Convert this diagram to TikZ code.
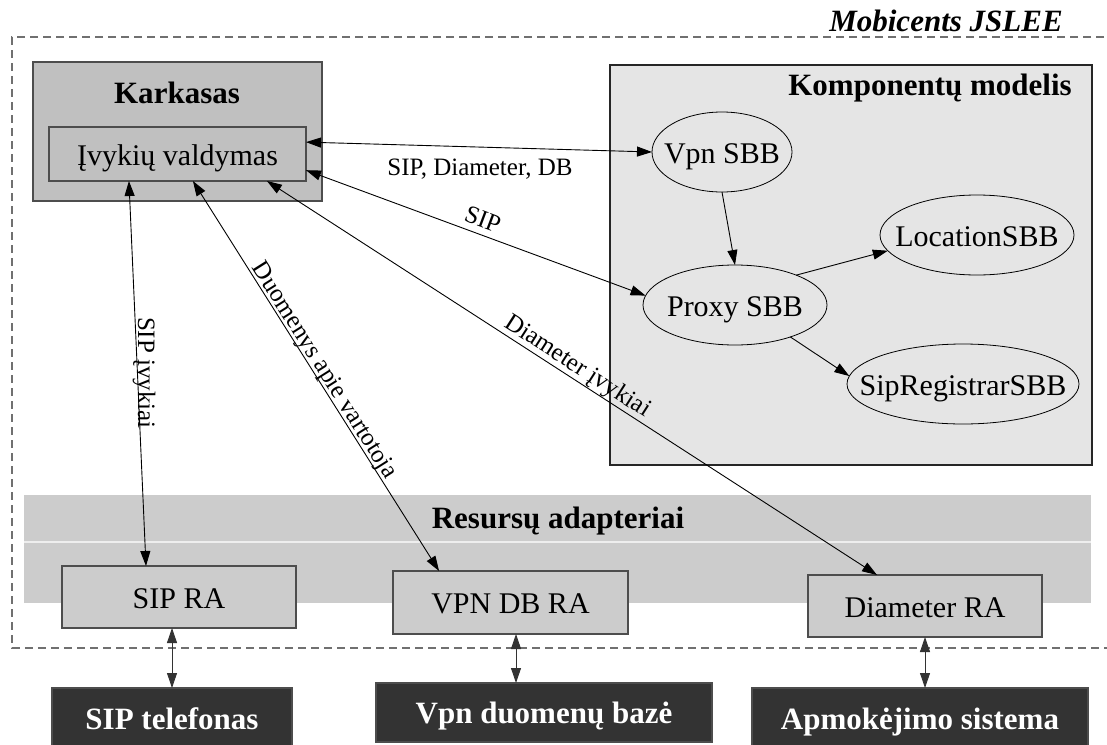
\documentclass[tikz,border=0pt]{standalone}
\usepackage{fontspec}
\setmainfont{Liberation Serif}
\usetikzlibrary{arrows.meta,calc,shapes.geometric}

\definecolor{frameGray}{HTML}{4D4D4D}
\definecolor{coreFill}{HTML}{C0C0C0}
\definecolor{compFill}{HTML}{E5E5E5}
\definecolor{raFill}{HTML}{CCCCCC}
\definecolor{extFill}{HTML}{333333}
\definecolor{dashGray}{HTML}{707070}
\definecolor{splitLine}{HTML}{EEEEEE}

\begin{document}
\begin{tikzpicture}[x=1pt,y=-1pt,
  every node/.style={inner sep=0pt, outer sep=0pt},
  bigfont/.style={font=\fontsize{30}{36}\selectfont},
  lblfont/.style={font=\fontsize{25}{30}\selectfont},
  txt/.style={bigfont, text height=22pt, text depth=0pt},
  box/.style={rectangle, draw=frameGray, line width=1.2pt, txt},
  corebox/.style={box, fill=coreFill},
  rabox/.style={box, fill=raFill},
  extbox/.style={rectangle, draw=frameGray, line width=1.2pt, fill=extFill,
                 text=white, font=\fontsize{31}{36}\selectfont\bfseries,
                 text height=22pt, text depth=0pt},
  sbb/.style={ellipse, draw=black, line width=0.8pt, minimum height=80pt},
  sbbtext/.style={txt},
  title/.style={font=\fontsize{31}{36}\selectfont\bfseries, anchor=base},
  edgelbl/.style={lblfont, anchor=base},
  conn/.style={line width=0.9pt, draw=black},
  onetip/.style={conn, -{Triangle[length=15pt,width=10pt]}},
  twotips/.style={conn, {Triangle[length=15pt,width=10pt]}-{Triangle[length=15pt,width=10pt]}},
  dashframe/.style={draw=dashGray, line width=1.2pt, dash pattern=on 8pt off 5pt}
]
\useasboundingbox (0,0) rectangle (1107,744);
\clip (0,0) rectangle (1107,744);

% container of the SLEE
\draw[dashframe] (1130,37) -- (12,37) -- (12,648) -- (1130,648);
\node[font=\fontsize{31}{36}\selectfont\bfseries\itshape, anchor=base] (slee) at (946,31) {Mobicents JSLEE};

% resource adaptor band
\node[rectangle, fill=raFill, minimum width=1067pt, minimum height=108pt] (band) at (557.5,549) {};
\draw[splitLine, line width=1.5pt] ($(band.west)+(0,-7)$) -- ($(band.east)+(0,-7)$);
\node[title] (bandtitle) at (558,528) {Resursų adapteriai};

% framework
\node[corebox, minimum width=289pt, minimum height=139pt] (core) at (177.5,131.5) {};
\node[title] (coretitle) at (177,103) {Karkasas};
\node[corebox, minimum width=257pt, minimum height=54pt] (ev) at (177.5,154) {Įvykių valdymas};

% component model
\node[rectangle, draw=black!85, line width=1.2pt, fill=compFill,
      minimum width=482pt, minimum height=400pt] (comp) at (851,265) {};
\node[title] (comptitle) at (930,95) {Komponentų modelis};

\node[sbb, minimum width=140pt, label={[sbbtext]center:Vpn SBB}] (vpn) at (722,152) {};
\node[sbb, minimum width=184pt, label={[sbbtext]center:Proxy SBB}] (proxy) at (735,305) {};
\node[sbb, minimum width=194pt, label={[sbbtext]center:LocationSBB}] (loc) at (977,235) {};
\node[sbb, minimum width=232pt, label={[sbbtext]center:SipRegistrarSBB}] (reg) at (963,384) {};

% resource adaptors
\node[rabox, minimum width=234pt, minimum height=62pt] (sipra) at (179,597) {SIP RA};
\node[rabox, minimum width=235pt, minimum height=63pt] (vpnra) at (510.5,602.5) {VPN DB RA};
\node[rabox, minimum width=234pt, minimum height=62pt] (diamra) at (925,606) {Diameter RA};

% external systems
\node[extbox, minimum width=240pt, minimum height=60pt] (phone) at (172,718) {SIP telefonas};
\node[extbox, minimum width=336pt, minimum height=59pt] (vpndb) at (544,712.5) {Vpn duomenų bazė};
\node[extbox, minimum width=336pt, minimum height=60pt] (bill) at (920,718) {Apmokėjimo sistema};

% attachment points on the event router
\coordinate (ev-s1) at ($(ev.south west)!0.311!(ev.south east)$);
\coordinate (ev-s2) at ($(ev.south west)!0.56!(ev.south east)$);
\coordinate (ev-s3) at ($(ev.south west)!0.848!(ev.south east)$);
\coordinate (ev-e1) at ($(ev.north east)!0.28!(ev.south east)$);
\coordinate (ev-e2) at ($(ev.north east)!0.80!(ev.south east)$);
\coordinate (sipra-n) at ($(sipra.north west)!0.359!(sipra.north east)$);
\coordinate (vpnra-n) at ($(vpnra.north west)!0.196!(vpnra.north east)$);
\coordinate (diamra-n) at ($(diamra.north west)!0.295!(diamra.north east)$);

% event flows
\draw[twotips] (ev-e1) -- (vpn.west);
\draw[twotips] (ev-e2) -- (proxy.174);
\draw[twotips] (ev-s1) -- (sipra-n);
\draw[twotips] (ev-s2) -- (vpnra-n);
\draw[twotips] (ev-s3) -- (diamra-n);

\node[edgelbl] (l-sdd) at (480,175) {SIP, Diameter, DB};
\node[edgelbl, rotate=-20.7] (l-sip) at (480,227) {SIP};
\node[edgelbl, rotate=-90] (l-sipev) at (138,373) {SIP įvykiai};
\node[edgelbl, rotate=-57.7] (l-duom) at (319,374) {Duomenys apie vartotoja};
\node[edgelbl, rotate=-32.7] (l-diam) at (574,372) {Diameter įvykiai};

% component calls
\draw[onetip] (vpn.south) -- (proxy.north);
\draw[onetip] (proxy.26) -- (loc.190);
\draw[onetip] (proxy.-30) -- (reg.176);

% adaptor to external system links
\draw[twotips, draw=black!80] (sipra.south -| phone.north) -- (phone.north);
\draw[twotips, draw=black!80] ([xshift=5.5pt]vpnra.south) -- ([xshift=5.5pt]vpnra.south |- vpndb.north);
\draw[twotips, draw=black!80] (diamra.south) -- (diamra.south |- bill.north);
\end{tikzpicture}
\end{document}
